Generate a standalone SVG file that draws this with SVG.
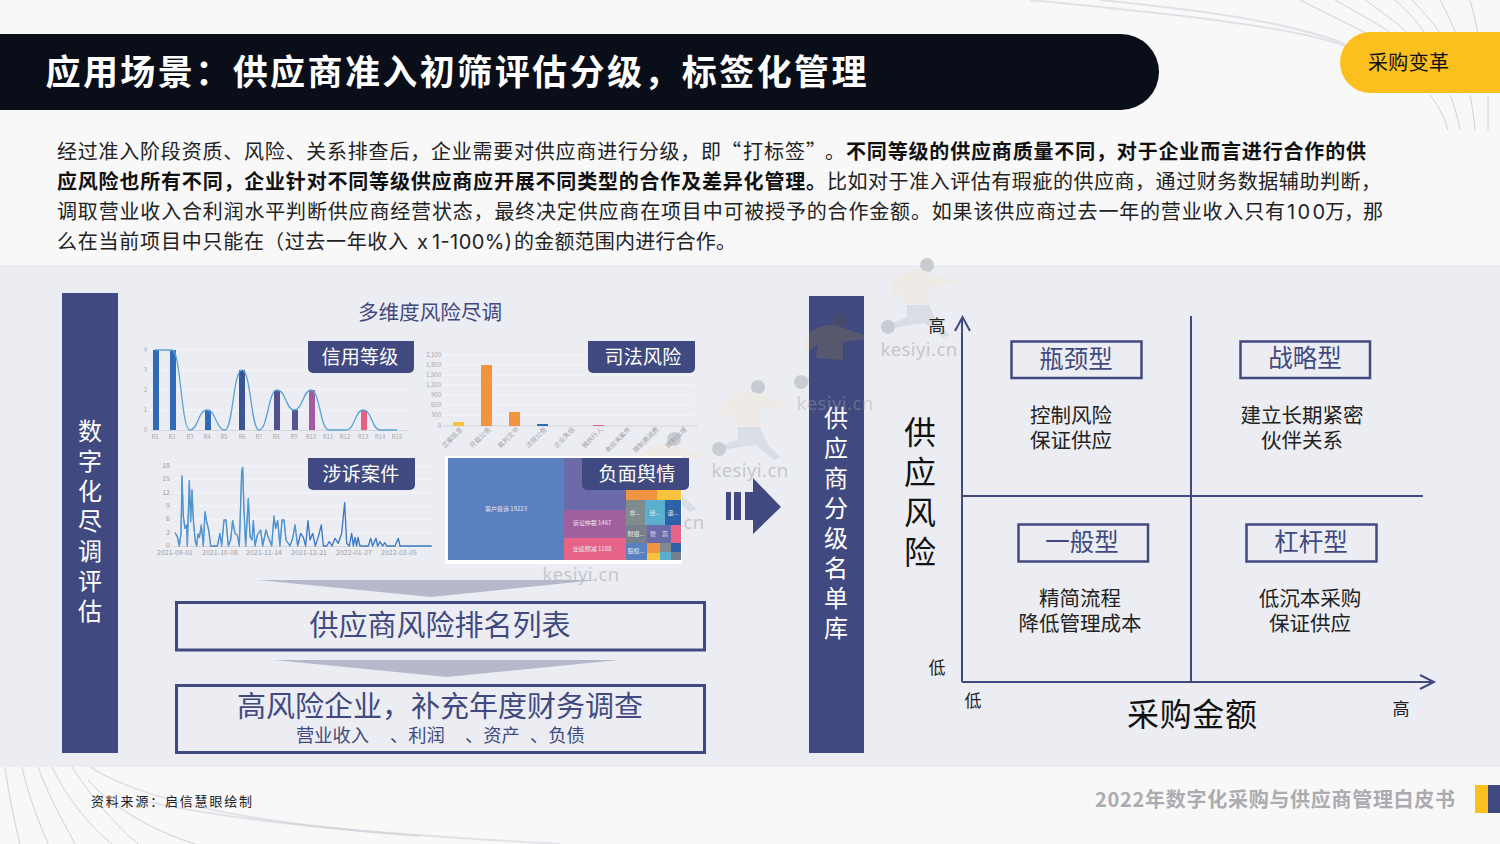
<svg xmlns="http://www.w3.org/2000/svg" xmlns:xlink="http://www.w3.org/1999/xlink" width="1500" height="844" viewBox="0 0 1500 844">
<defs>
<style>
text{font-family:"Noto Sans CJK SC","Noto Sans",sans-serif}
.blue{fill:#414a80}
.tag{fill:#414a80}
.tagt{fill:#fff;font-size:19px;text-anchor:middle;letter-spacing:.3px}
.body{font-size:20px;fill:#222}
.bb{font-size:20px;fill:#111;font-weight:700}
.lat{font-family:Inter,"Noto Sans",sans-serif}
.ax{font-size:6px;fill:#a8a8ae;font-family:"Liberation Sans",sans-serif}
.ax2{font-size:7px;fill:#9c9ca4;font-family:"Liberation Sans",sans-serif}
.grid{stroke:#fff;stroke-width:1;stroke-dasharray:2 2;fill:none}
.fan{fill:none;stroke:#b4b5c2;stroke-width:1;opacity:.6}
.fan2{fill:none;stroke:#c5c6d0;stroke-width:2;opacity:.45}
.mx{fill:none;stroke:#414a80;stroke-width:2}
.qb{fill:none;stroke:#414a80;stroke-width:2.5}
.qt{font-size:24.500px;fill:#414a80;text-anchor:middle}
.qd{font-size:20.500px;fill:#222;text-anchor:middle}
.sm{font-size:17px;fill:#222;text-anchor:middle}
.vt{font-size:24px;fill:#fff;text-anchor:middle}
.big{font-size:32px;fill:#111;text-anchor:middle}
.wm{font-family:"Noto Sans",sans-serif;font-size:18.500px;fill:#a2a2a8;opacity:.5;text-anchor:middle;letter-spacing:.4px}
.h29{font-size:29px;fill:#414a80;text-anchor:middle}
.s18{font-size:18.300px;fill:#414a80}
.tl{font-size:6px;fill:#e8e8f2;text-anchor:middle}
.rot{font-size:6.500px;fill:#a0a0a8;text-anchor:end}
</style>
<g id="runner">
<circle cx="12" cy="-30" r="7" fill="#c8ccd2"/>
<path d="M-25 -10C-15 -25 5 -28 15 -22L45 -12L15 -8L15 10L-12 8L-10 -5L-22 3Z" fill="#eeeae6"/>
<path d="M-8 10L14 10L22 28L34 40L28 43L10 28L-5 30L-22 33L-22 28L-8 22Z" fill="#d8dde6"/>
<circle cx="-27" cy="32" r="7" fill="#c9ccd2"/>
</g>
<clipPath id="barclip"><rect x="809" y="296" width="55" height="457"/></clipPath>
</defs>

<rect width="1500" height="844" fill="#f8f8f9"/>
<g id="background-lines">
<path class="fan2" d="M1030 0C1150 12 1290 25 1345 46"/>
<path class="fan2" d="M1100 0C1200 10 1290 22 1345 44"/>
<path class="fan" d="M1300 0C1330 15 1360 30 1372 36"/>
<path class="fan" d="M1335 0C1360 14 1385 28 1395 36"/>
<path class="fan" d="M1365 0C1385 14 1400 25 1408 34"/>
<path class="fan" d="M1395 0C1410 14 1420 24 1425 34"/>
<path class="fan" d="M1412 0C1425 14 1435 24 1440 34"/>
<path class="fan" d="M1440 0C1448 14 1452 24 1456 34"/>
<path class="fan" d="M1470 0C1474 14 1476 24 1478 34"/>
<path class="fan" d="M1430 95C1438 105 1445 118 1448 130"/>
<path class="fan" d="M1450 95C1454 105 1458 118 1460 130"/>
<path class="fan" d="M1470 95C1472 105 1474 118 1475 130"/>
<path class="fan" d="M1488 95V130"/>
<path class="fan" d="M5 767C8 790 14 820 20 844"/>
<path class="fan" d="M22 767C28 795 40 825 48 844"/>
<path class="fan" d="M38 767C48 795 65 825 75 844"/>
<path class="fan" d="M52 767C65 795 88 825 112 844"/>
<path class="fan" d="M72 767C90 795 115 825 138 844"/>
<path class="fan" d="M88 780C110 805 150 830 195 844"/>
<path class="fan2" d="M90 767C150 805 270 825 420 836"/>
<path class="fan2" d="M140 800C250 825 400 835 560 844"/>
</g>

<rect y="265" width="1500" height="502" fill="#ecedf2"/>

<g id="title">
<path d="M0 34H1121A38 38 0 0 1 1121 110H0Z" fill="#0a0e18"/>
<text x="45.500" y="85" font-size="35" font-weight="700" fill="#fff" textLength="821">应用场景：供应商准入初筛评估分级，标签化管理</text>
</g>
<g id="tag-pill">
<path d="M1500 32H1370.500A30.500 30.500 0 0 0 1370.500 93H1500Z" fill="#fbc01e"/>
<text x="1368" y="70" font-size="20" fill="#111" textLength="81">采购变革</text>
</g>

<g id="intro">
<text class="body" x="57" y="159" textLength="664">经过准入阶段资质、风险、关系排查后，企业需要对供应商进行分级，即</text>
<text class="body" x="741" y="159" text-anchor="end">“</text>
<text class="body" x="743" y="159" textLength="62">打标签</text>
<text class="body" x="806" y="159">”</text>
<text class="body" x="825" y="159">。</text>
<text class="bb" x="846" y="159" textLength="520">不同等级的供应商质量不同，对于企业而言进行合作的供</text>
<text class="bb" x="57" y="189" textLength="769">应风险也所有不同，企业针对不同等级供应商应开展不同类型的合作及差异化管理。</text>
<text class="body" x="827" y="189" textLength="554">比如对于准入评估有瑕疵的供应商，通过财务数据辅助判断，</text>
<text class="body" x="57" y="219" textLength="1228">调取营业收入合利润水平判断供应商经营状态，最终决定供应商在项目中可被授予的合作金额。如果该供应商过去一年的营业收入只有</text>
<text class="body lat" x="1287" y="219" textLength="38">100</text>
<text class="body" x="1325" y="219" textLength="58">万，那</text>
<text class="body" x="57" y="249" textLength="207">么在当前项目中只能在</text>
<text class="body" x="264" y="249" textLength="144">（过去一年收入</text>
<text class="body lat" x="417" y="249">x</text>
<text class="body lat" x="432" y="249" textLength="80">1-100%)</text>
<text class="body" x="514" y="249" textLength="222">的金额范围内进行合作。</text>
</g>

<g id="watermark-back">
<use xlink:href="#runner" href="#runner" x="915" y="295"/>
<use xlink:href="#runner" href="#runner" x="828" y="350"/>
<use xlink:href="#runner" href="#runner" x="746" y="417"/>
<use xlink:href="#runner" href="#runner" x="662" y="469"/>
<text class="wm" x="919" y="356">kesiyi.cn</text>
<text class="wm" x="750" y="477">kesiyi.cn</text>
<text class="wm" x="666" y="529">kesiyi.cn</text>
</g>

<g id="left-bar">
<rect x="62" y="293" width="56" height="460" class="blue"/>
<text class="vt" x="90" y="440">数</text><text class="vt" x="90" y="470">字</text><text class="vt" x="90" y="500">化</text><text class="vt" x="90" y="530">尽</text><text class="vt" x="90" y="560">调</text><text class="vt" x="90" y="590">评</text><text class="vt" x="90" y="620">估</text>
</g>

<text id="charts-title" x="430" y="320" font-size="20.600" fill="#414a80" text-anchor="middle">多维度风险尽调</text>

<g id="chart-credit">
<path class="grid" d="M150 350H408M150 370H408M150 390H408M150 410H408"/>
<path d="M150 430.500H408" stroke="#d4d4da" fill="none"/>
<g class="ax" text-anchor="end"><text x="147" y="352">4</text><text x="147" y="372">3</text><text x="147" y="392">2</text><text x="147" y="412">1</text><text x="147" y="432">0</text></g>
<g fill="#2f6cb8"><rect x="153" y="350" width="6" height="80"/><rect x="170" y="350" width="6" height="80"/><rect x="205" y="410" width="6" height="20"/></g>
<rect x="239" y="370" width="6" height="60" fill="#3b5492"/>
<rect x="274" y="390" width="6" height="40" fill="#4f5190"/>
<rect x="292" y="410" width="6" height="20" fill="#54558f"/>
<rect x="309" y="390" width="6" height="40" fill="#a35aa3"/>
<rect x="361" y="410" width="6" height="20" fill="#e85f86"/>
<path fill="none" stroke="#5aa3d6" stroke-width="1.300" d="M155 350H172C181 350 181 430 190 430C198 430 198 410 207 410C216 410 216 430 225 430C233 430 233 370 242 370C251 370 251 430 259 430C268 430 268 390 277 390C286 390 286 410 294 410C303 410 303 390 311 390C320 390 320 430 329 430H346C355 430 355 410 363 410C372 410 372 430 380 430H397"/>
<g class="ax" text-anchor="middle"><text x="155" y="439">R1</text><text x="172" y="439">R2</text><text x="190" y="439">R3</text><text x="207" y="439">R4</text><text x="224" y="439">R5</text><text x="242" y="439">R6</text><text x="259" y="439">R7</text><text x="276" y="439">R8</text><text x="294" y="439">R9</text><text x="311" y="439">R10</text><text x="328" y="439">R11</text><text x="345" y="439">R12</text><text x="363" y="439">R13</text><text x="380" y="439">R14</text><text x="397" y="439">R15</text></g>
<path class="tag" d="M308 341H414V368A5 5 0 0 1 409 373H313A5 5 0 0 1 308 368Z"/>
<text class="tagt" x="360" y="363.500">信用等级</text>
</g>

<g id="chart-judicial">
<path class="grid" d="M443 355H695M443 365H695M443 375H695M443 385H695M443 395H695M443 405H695M443 415H695"/>
<path d="M443 426H698" stroke="#d4d4da" fill="none"/>
<g class="ax" text-anchor="end"><text x="441" y="357">2,100</text><text x="441" y="367">1,800</text><text x="441" y="377">1,500</text><text x="441" y="387">1,200</text><text x="441" y="397">900</text><text x="441" y="407">600</text><text x="441" y="417">300</text><text x="441" y="428">0</text></g>
<rect x="453" y="422" width="11" height="4" fill="#f7c23c"/>
<rect x="481" y="365" width="11" height="61" fill="#f0943f"/>
<rect x="509" y="412" width="11" height="14" fill="#f0943f"/>
<rect x="537" y="424" width="11" height="2" fill="#2f6cb8"/>
<rect x="593" y="425" width="11" height="1" fill="#e85f86"/>
<g class="rot">
<text transform="translate(463 430) rotate(-45)">立案信息</text>
<text transform="translate(491 430) rotate(-45)">开庭公告</text>
<text transform="translate(519 430) rotate(-45)">裁判文书</text>
<text transform="translate(547 430) rotate(-45)">法院公告</text>
<text transform="translate(575 430) rotate(-45)">企业失信</text>
<text transform="translate(603 430) rotate(-45)">被执行人</text>
<text transform="translate(631 430) rotate(-45)">有效末案件</text>
<text transform="translate(659 430) rotate(-45)">限制高消费</text>
<text transform="translate(687 430) rotate(-45)">限制出境</text>
</g>
<path class="tag" d="M588 341H695V368A5 5 0 0 1 690 373H593A5 5 0 0 1 588 368Z"/>
<text class="tagt" x="643" y="363.500">司法风险</text>
</g>

<g id="chart-litigation">
<path class="grid" d="M175 466H432M175 479H432M175 493H432M175 506H432M175 519H432M175 533H432"/>
<path d="M172 546.500H432" stroke="#d4d4da" fill="none"/>
<g class="ax2" text-anchor="end"><text x="170" y="468">18</text><text x="170" y="481">15</text><text x="170" y="495">12</text><text x="170" y="508">9</text><text x="170" y="521">6</text><text x="170" y="535">3</text><text x="170" y="548">0</text></g>
<g transform="translate(130 450) scale(.33333)">
<path fill="none" stroke="#3b78c4" stroke-width="4" stroke-linejoin="round" d="M135 248L142 260L148 288L153 250L156 78L160 200L165 235L170 225L172 288L178 92L182 215L186 120L190 210L196 275L200 288L204 252L208 262L214 225L220 288L225 185L230 215L236 240L242 288L262 288L270 250L275 288L282 210L288 210L295 288L302 270L308 212L315 250L322 255L328 288L335 65L338 52L342 180L347 288L355 145L360 260L366 270L370 212L375 288L382 255L392 240L398 288L408 240L415 262L425 288L432 198L437 235L443 212L450 288L456 210L462 210L468 270L480 288L488 265L495 225L503 288L512 250L520 262L527 288L534 212L540 270L548 250L556 288L565 260L574 225L580 288L590 288L598 275L606 288L615 265L625 280L635 250L644 158L650 280L658 288L665 250L670 288L675 262L680 288L684 262L690 288L715 288L722 265L728 288L738 265L743 288L750 275L758 288L764 278L770 288L795 288L805 265L810 288L905 288"/>
<path fill="none" stroke="#63b6d8" stroke-width="2" opacity=".8" d="M135 248L142 260L148 288L153 250L156 78L160 200L165 235L170 225L172 288L178 92L182 215L186 120L190 210L196 275L200 288L204 252L208 262L214 225L220 288L225 185L230 215L236 240L242 288L262 288L270 250L275 288L282 210L288 210L295 288L302 270L308 212L315 250L322 255L328 288L335 65L338 52L342 180L347 288L355 145L360 260L366 270L370 212L375 288L382 255L392 240L398 288L408 240L415 262L425 288L432 198L437 235L443 212L450 288L456 210L462 210L468 270L480 288L488 265L495 225L503 288"/>
</g>
<g class="ax2" text-anchor="middle"><text x="175" y="555">2021-09-01</text><text x="220" y="555">2021-10-08</text><text x="264" y="555">2021-11-14</text><text x="309" y="555">2021-12-21</text><text x="354" y="555">2022-01-27</text><text x="399" y="555">2022-03-05</text></g>
<path class="tag" d="M308 458H415V485A5 5 0 0 1 410 490H313A5 5 0 0 1 308 485Z"/>
<text class="tagt" x="361" y="481">涉诉案件</text>
</g>

<g id="chart-treemap">
<rect x="445" y="456" width="237" height="108" fill="#fff"/>
<rect x="448" y="458" width="116" height="102" fill="#5b80c0"/>
<rect x="564" y="458" width="62" height="52" fill="#6a6ba8"/>
<rect x="564" y="510" width="62" height="28" fill="#a0609f"/>
<rect x="564" y="538" width="62" height="22" fill="#e76488"/>
<rect x="626" y="490" width="31" height="10" fill="#f0943f"/>
<rect x="657" y="490" width="24" height="10" fill="#f7c23c"/>
<rect x="626" y="500" width="19" height="25" fill="#7f8c8d"/>
<rect x="645" y="500" width="20" height="25" fill="#5aafcf"/>
<rect x="665" y="500" width="16" height="25" fill="#2d62a8"/>
<rect x="626" y="525" width="21" height="18" fill="#767f8c"/>
<rect x="647" y="525" width="24" height="18" fill="#6a6aa8"/>
<rect x="671" y="525" width="10" height="18" fill="#e76488"/>
<rect x="626" y="543" width="21" height="17" fill="#5b80c0"/>
<rect x="647" y="543" width="13" height="10" fill="#f0943f"/>
<rect x="647" y="553" width="13" height="7" fill="#f7c23c"/>
<rect x="660" y="543" width="11" height="9" fill="#7f8c8d"/>
<rect x="660" y="552" width="11" height="8" fill="#5aafcf"/>
<rect x="671" y="543" width="10" height="9" fill="#2d62a8"/>
<rect x="671" y="552" width="10" height="8" fill="#767f8c"/>
<text class="tl" x="506" y="511">客户投诉 19223</text>
<text class="tl" x="592" y="525">诉讼仲裁 1467</text>
<text class="tl" x="592" y="551">业绩预减 1188</text>
<text class="tl" x="635" y="515">非...</text>
<text class="tl" x="655" y="515">经...</text>
<text class="tl" x="673" y="515">退...</text>
<text class="tl" x="636" y="536">财报...</text>
<text class="tl" x="653" y="536">管</text>
<text class="tl" x="665" y="536">高</text>
<text class="tl" x="636" y="553">股权...</text>
<path class="tag" d="M582 458H689V485A5 5 0 0 1 684 490H587A5 5 0 0 1 582 485Z"/>
<text class="tagt" x="637" y="481">负面舆情</text>
</g>

<text class="wm" x="581" y="581">kesiyi.cn</text>

<g id="ranking-list">
<path d="M258 580H597L431 597Z" fill="#b6b8cb"/>
<rect x="176.500" y="602.500" width="528" height="47.500" fill="none" stroke="#414a80" stroke-width="3"/>
<text class="h29" x="440" y="636">供应商风险排名列表</text>
</g>
<g id="finance-check">
<path d="M274 660H619L447 677Z" fill="#b6b8cb"/>
<rect x="176.500" y="685.500" width="528" height="67" fill="none" stroke="#414a80" stroke-width="3"/>
<text class="h29" x="440" y="717">高风险企业，补充年度财务调查</text>
<text class="s18" x="296" y="742">营业收入</text>
<text class="s18" x="390" y="742">、利润</text>
<text class="s18" x="465" y="742">、资产</text>
<text class="s18" x="530" y="742">、负债</text>
</g>

<g id="arrow-right">
<rect x="726" y="492" width="5" height="28" class="blue"/>
<rect x="734" y="492" width="7" height="28" class="blue"/>
<path class="blue" d="M745 492H753V478L781 507L753 534V520H745Z"/>
</g>

<g id="middle-bar">
<rect x="809" y="296" width="55" height="457" class="blue"/>
<g clip-path="url(#barclip)" opacity=".55">
<circle cx="840" cy="320" r="7" fill="#4a4a58"/>
<path d="M803 340C813 325 833 322 843 328L873 338L843 342L843 360L816 358L818 345L806 353Z" fill="#6a6460"/>
</g>
<text class="vt" x="836" y="427">供</text><text class="vt" x="836" y="457">应</text><text class="vt" x="836" y="487">商</text><text class="vt" x="836" y="517">分</text><text class="vt" x="836" y="547">级</text><text class="vt" x="836" y="577">名</text><text class="vt" x="836" y="607">单</text><text class="vt" x="836" y="637">库</text>
</g>

<g id="watermark-front" opacity=".8">
<text class="wm" x="835" y="410">kesiyi.cn</text>
</g>

<g id="connectors">
<path class="mx" d="M962 682V318M955 331L962.500 317L970 331"/>
<path class="mx" d="M962 682H1433M1420 675L1434 682L1420 689"/>
<path class="mx" d="M1191 316V682M962 496H1423"/>
</g>

<g id="axis-labels">
<text class="sm" x="937" y="332">高</text>
<text class="sm" x="937" y="674">低</text>
<text class="sm" x="973" y="707">低</text>
<text class="sm" x="1401" y="715">高</text>
<text class="big" x="1192" y="726" textLength="130">采购金额</text>
<text class="big" x="920" y="444">供</text><text class="big" x="920" y="484">应</text><text class="big" x="920" y="524">风</text><text class="big" x="920" y="564">险</text>
</g>

<g id="q-bottleneck">
<rect class="qb" x="1011.500" y="341.500" width="130" height="36.500"/>
<text class="qt" x="1076" y="367.500">瓶颈型</text>
<text class="qd" x="1071" y="423">控制风险</text><text class="qd" x="1071" y="448">保证供应</text>
</g>
<g id="q-strategic">
<rect class="qb" x="1240.500" y="341.500" width="129.500" height="36.500"/>
<text class="qt" x="1305" y="367">战略型</text>
<text class="qd" x="1302" y="423">建立长期紧密</text><text class="qd" x="1302" y="448">伙伴关系</text>
</g>
<g id="q-general">
<rect class="qb" x="1018.500" y="524.500" width="129.500" height="37"/>
<text class="qt" x="1082" y="551">一般型</text>
<text class="qd" x="1080" y="606">精简流程</text><text class="qd" x="1080" y="631">降低管理成本</text>
</g>
<g id="q-leverage">
<rect class="qb" x="1246.500" y="524.500" width="130" height="37"/>
<text class="qt" x="1311" y="551">杠杆型</text>
<text class="qd" x="1310" y="606">低沉本采购</text><text class="qd" x="1310" y="631">保证供应</text>
</g>

<g id="footer">
<text x="91" y="806" font-size="13" fill="#222" textLength="161">资料来源：启信慧眼绘制</text>
<text x="1095" y="807" font-size="20" font-weight="700" fill="#ababb0" textLength="360">2022年数字化采购与供应商管理白皮书</text>
<rect x="1475" y="785" width="13" height="28" fill="#fbc01e"/>
<rect x="1488" y="785" width="12" height="28" fill="#414a80"/>
</g>
</svg>
